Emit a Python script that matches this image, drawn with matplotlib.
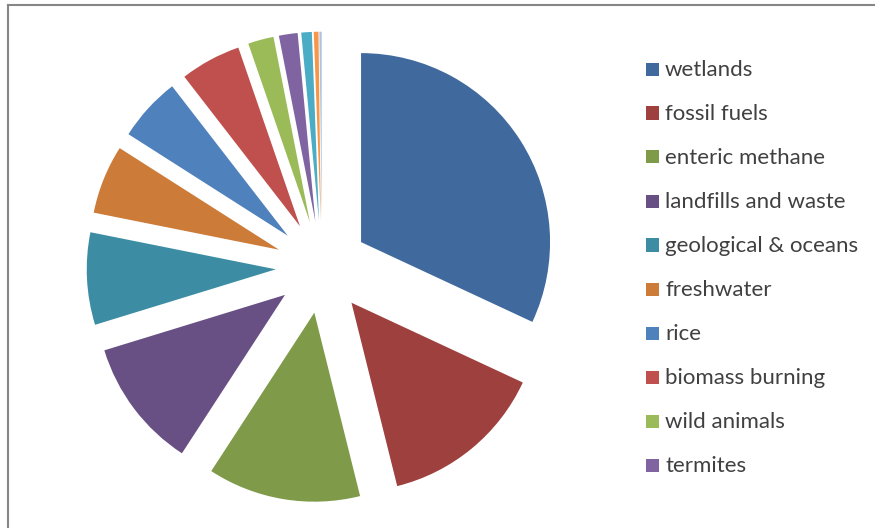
import matplotlib
matplotlib.use("Agg")
import matplotlib.pyplot as plt
from matplotlib.patches import Rectangle
from matplotlib.lines import Line2D

# Data (approximate shares of global methane sources, %)
categories = ["wetlands", "fossil fuels", "enteric methane", "landfills and waste",
              "geological & oceans", "freshwater", "rice", "biomass burning",
              "wild animals", "termites", "permafrost", "hydrates", "other"]
values = [32.0, 14.2, 13.1, 11.1, 7.9, 5.9, 5.5, 5.2, 2.2, 1.6, 0.9, 0.4, 0.2]
legend_labels = categories[:10]

colors = ["#406A9E", "#9E403E", "#7F9A48", "#695084", "#3C8DA3", "#CC7B38",
          "#4F81BD", "#C0504D", "#9BBB59", "#8064A2", "#4BACC6", "#F79646", "#AFC3E0"]

W, H = 875, 528
fig = plt.figure(figsize=(W / 100, H / 100), dpi=100)
fig.patch.set_facecolor("white")

ax = fig.add_axes([0, 0, 1, 1])
cx, cy, r = 322, 267, 189
ax.pie(values, colors=colors, startangle=90, counterclock=False,
       explode=[0.245] * len(values), radius=1,
       wedgeprops=dict(linewidth=0, antialiased=True))
ax.set_xlim(-cx / r, (W - cx) / r)
ax.set_ylim(-(H - cy) / r, cy / r)
ax.set_aspect("auto")
ax.axis("off")

# chart border (top and left edges visible)
fig.add_artist(Line2D([7.5 / W, 1], [1 - 5 / H, 1 - 5 / H], transform=fig.transFigure,
                      color="#868686", lw=1.5))
fig.add_artist(Line2D([7.5 / W, 7.5 / W], [0, 1 - 5 / H], transform=fig.transFigure,
                      color="#868686", lw=1.5))

# legend
y0, dy = 69, 44
for i, lab in enumerate(legend_labels):
    yc = y0 + i * dy
    fig.add_artist(Rectangle((646 / W, 1 - (yc + 6.5) / H), 13 / W, 13 / H,
                             transform=fig.transFigure, facecolor=colors[i],
                             edgecolor="none"))
    fig.text(665 / W, 1 - (yc + 1) / H, lab, fontsize=16, family="Lato",
             color="#404040", va="center", ha="left")

fig.savefig("out.png", dpi=100)
